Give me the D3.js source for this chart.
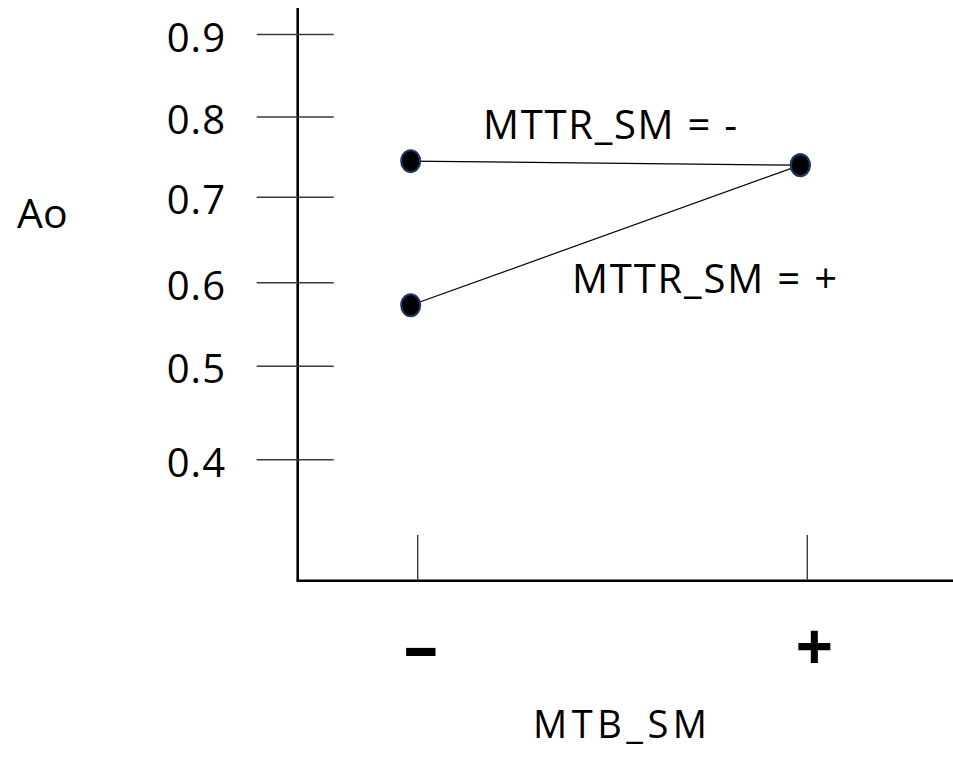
<!DOCTYPE html>
<html>
<head>
<meta charset="utf-8">
<script src="https://cdn.jsdelivr.net/npm/d3@7"></script>
<style>
  body { margin: 0; background: #fff; }
  text { font-family: "Open Sans", sans-serif; fill: #000; }
</style>
</head>
<body>
<div id="chart"></div>
<script>
// data
var yTicks = [0.4, 0.5, 0.6, 0.7, 0.8, 0.9];
var xLevels = ["-", "+"];
var seriesNames = ["MTTR_SM = -", "MTTR_SM = +"];
var aoMttrLow = [0.745, 0.740];   // MTTR_SM = -
var aoMttrHigh = [0.573, 0.740];  // MTTR_SM = +

var width = 953, height = 757;
var axisX = 297.7, axisY = 580.7;

var svg = d3.select("#chart")
    .append("svg")
    .attr("width", width)
    .attr("height", height);

// hand drawn axis, ticks are not evenly spaced
var y = d3.scaleLinear()
    .domain(yTicks)
    .range([459.7, 366.3, 282.7, 197.3, 117, 34.5]);

var x = d3.scalePoint()
    .domain(xLevels)
    .range([417.7, 807.3]);

var markerShift = -7;

// axis lines
svg.append("line")
    .attr("x1", axisX).attr("x2", axisX)
    .attr("y1", 8).attr("y2", axisY + 1)
    .attr("stroke", "#000")
    .attr("stroke-width", 2.6);

svg.append("line")
    .attr("x1", axisX - 1).attr("x2", width)
    .attr("y1", axisY).attr("y2", axisY)
    .attr("stroke", "#000")
    .attr("stroke-width", 2.6);

// y ticks cross the axis
svg.selectAll(".ytick")
    .data(yTicks)
    .enter()
    .append("line")
    .attr("class", "ytick")
    .attr("x1", axisX - 41)
    .attr("x2", axisX + 36)
    .attr("y1", function(d) { return y(d); })
    .attr("y2", function(d) { return y(d); })
    .attr("stroke", "#3a3a3a")
    .attr("stroke-width", 1.4);

svg.selectAll(".ylabel")
    .data(yTicks)
    .enter()
    .append("text")
    .attr("class", "ylabel")
    .attr("x", 226)
    .attr("y", function(d) { return y(d) + 17; })
    .attr("text-anchor", "end")
    .style("font-size", "40px")
    .style("letter-spacing", "1px")
    .text(function(d) { return d3.format(".1f")(d); });

// x ticks stand on the axis
svg.selectAll(".xtick")
    .data(xLevels)
    .enter()
    .append("line")
    .attr("class", "xtick")
    .attr("x1", function(d) { return x(d); })
    .attr("x2", function(d) { return x(d); })
    .attr("y1", 535)
    .attr("y2", axisY)
    .attr("stroke", "#3a3a3a")
    .attr("stroke-width", 1.4);

// the minus sign is drawn wide, so stretch it
svg.selectAll(".xlabel")
    .data(xLevels)
    .enter()
    .append("text")
    .attr("class", "xlabel")
    .attr("transform", function(d) {
        var sx = d === "-" ? 1.7 : 1;
        return "translate(" + (x(d) + (d === "-" ? 3 : 7)) + ",670) scale(" + sx + ",1)";
    })
    .attr("text-anchor", "middle")
    .style("font-size", "66px")
    .style("font-weight", "bold")
    .text(function(d) { return d; });

// axis titles
svg.append("text")
    .attr("x", 17)
    .attr("y", 228)
    .style("font-size", "41px")
    .text("Ao");

svg.append("text")
    .attr("x", 533)
    .attr("y", 738)
    .style("font-size", "38px")
    .attr("textLength", 174)
    .attr("lengthAdjust", "spacing")
    .text("MTB_SM");

// the two lines
var series = [
    {name: seriesNames[0], values: aoMttrLow},
    {name: seriesNames[1], values: aoMttrHigh}
];

var line = d3.line()
    .x(function(d, i) { return x(xLevels[i]) + markerShift; })
    .y(function(d) { return y(d); });

svg.selectAll(".series")
    .data(series)
    .enter()
    .append("path")
    .attr("class", "series")
    .attr("d", function(d) { return line(d.values); })
    .attr("stroke", "#000")
    .attr("stroke-width", 1.2)
    .attr("fill", "none");

series.forEach(function(s) {
    svg.selectAll(null)
        .data(s.values)
        .enter()
        .append("ellipse")
        .attr("cx", function(d, i) { return x(xLevels[i]) + markerShift; })
        .attr("cy", function(d) { return y(d); })
        .attr("rx", 9.5)
        .attr("ry", 11)
        .attr("fill", "#000")
        .attr("stroke", "#203864")
        .attr("stroke-width", 2);
});

// series labels
svg.append("text")
    .attr("x", 483)
    .attr("y", 139)
    .style("font-size", "40px")
    .attr("textLength", 254)
    .attr("lengthAdjust", "spacing")
    .text(seriesNames[0]);

svg.append("text")
    .attr("x", 572)
    .attr("y", 293)
    .style("font-size", "40px")
    .attr("textLength", 265)
    .attr("lengthAdjust", "spacing")
    .text(seriesNames[1]);
</script>
</body>
</html>
